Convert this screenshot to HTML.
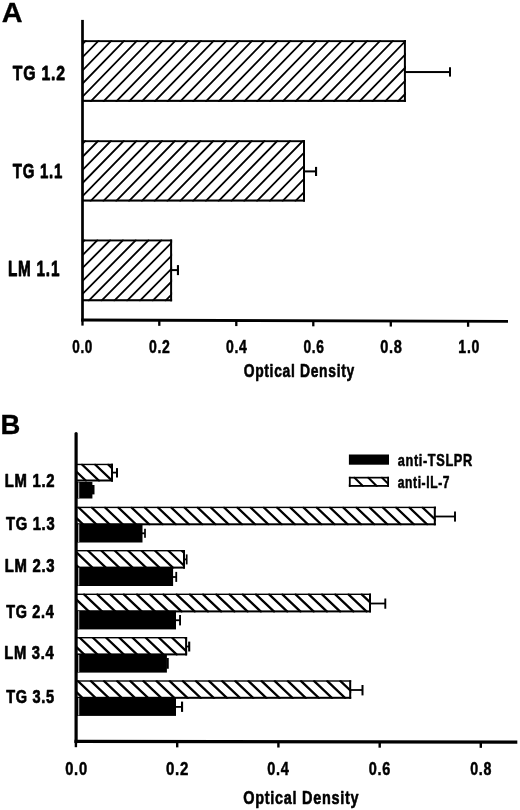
<!DOCTYPE html>
<html><head><meta charset="utf-8"><title>Figure</title>
<style>html,body{margin:0;padding:0;background:#fff}svg{display:block}text{font-family:"Liberation Sans",Arial,Helvetica,sans-serif;font-weight:bold;font-size:20px;fill:#000}</style>
</head><body>
<svg width="520" height="810" viewBox="0 0 520 810">
<rect width="520" height="810" fill="#fff"/>
<defs><filter id="soft" x="0" y="0" width="520" height="810" filterUnits="userSpaceOnUse"><feGaussianBlur stdDeviation="0.38"/></filter></defs>
<g filter="url(#soft)">
<text transform="matrix(1.4430 0 0 1.4255 1.73 21.65)" stroke="#000" stroke-width="0.3" vector-effect="non-scaling-stroke" stroke-linejoin="round">A</text>
<clipPath id="c1"><rect x="82.5" y="40.2" width="323.4" height="61.7"/></clipPath>
<path clip-path="url(#c1)" d="M-3.25 40.20L-63.35 101.90M9.55 40.20L-50.55 101.90M22.35 40.20L-37.75 101.90M35.15 40.20L-24.95 101.90M47.95 40.20L-12.15 101.90M60.75 40.20L0.65 101.90M73.55 40.20L13.45 101.90M86.35 40.20L26.25 101.90M99.15 40.20L39.05 101.90M111.95 40.20L51.85 101.90M124.75 40.20L64.65 101.90M137.55 40.20L77.45 101.90M150.35 40.20L90.25 101.90M163.15 40.20L103.05 101.90M175.95 40.20L115.85 101.90M188.75 40.20L128.65 101.90M201.55 40.20L141.45 101.90M214.35 40.20L154.25 101.90M227.15 40.20L167.05 101.90M239.95 40.20L179.85 101.90M252.75 40.20L192.65 101.90M265.55 40.20L205.45 101.90M278.35 40.20L218.25 101.90M291.15 40.20L231.05 101.90M303.95 40.20L243.85 101.90M316.75 40.20L256.65 101.90M329.55 40.20L269.45 101.90M342.35 40.20L282.25 101.90M355.15 40.20L295.05 101.90M367.95 40.20L307.85 101.90M380.75 40.20L320.65 101.90M393.55 40.20L333.45 101.90M406.35 40.20L346.25 101.90M419.15 40.20L359.05 101.90M431.95 40.20L371.85 101.90M444.75 40.20L384.65 101.90M457.55 40.20L397.45 101.90M470.35 40.20L410.25 101.90" stroke="#000" stroke-width="1.8" fill="none"/>
<rect x="82.5" y="40.2" width="323.4" height="1.9" fill="#000"/>
<rect x="82.5" y="99.80000000000001" width="323.4" height="2.1" fill="#000"/>
<rect x="403.9" y="40.2" width="2.0" height="61.7" fill="#000"/>
<rect x="405" y="71.05" width="45.00" height="2.00" fill="#000"/>
<rect x="449.0" y="67.25" width="2.00" height="9.35" fill="#000"/>
<clipPath id="c2"><rect x="82.5" y="140.25" width="222.5" height="61.349999999999994"/></clipPath>
<path clip-path="url(#c2)" d="M-3.70 140.25L-63.58 201.60M9.10 140.25L-50.78 201.60M21.90 140.25L-37.98 201.60M34.70 140.25L-25.18 201.60M47.50 140.25L-12.38 201.60M60.30 140.25L0.42 201.60M73.10 140.25L13.22 201.60M85.90 140.25L26.02 201.60M98.70 140.25L38.82 201.60M111.50 140.25L51.62 201.60M124.30 140.25L64.42 201.60M137.10 140.25L77.22 201.60M149.90 140.25L90.02 201.60M162.70 140.25L102.82 201.60M175.50 140.25L115.62 201.60M188.30 140.25L128.42 201.60M201.10 140.25L141.22 201.60M213.90 140.25L154.02 201.60M226.70 140.25L166.82 201.60M239.50 140.25L179.62 201.60M252.30 140.25L192.42 201.60M265.10 140.25L205.22 201.60M277.90 140.25L218.02 201.60M290.70 140.25L230.82 201.60M303.50 140.25L243.62 201.60M316.30 140.25L256.42 201.60M329.10 140.25L269.22 201.60M341.90 140.25L282.02 201.60M354.70 140.25L294.82 201.60M367.50 140.25L307.62 201.60" stroke="#000" stroke-width="1.8" fill="none"/>
<rect x="82.5" y="140.25" width="222.5" height="1.9" fill="#000"/>
<rect x="82.5" y="199.5" width="222.5" height="2.1" fill="#000"/>
<rect x="303.0" y="140.25" width="2.0" height="61.349999999999994" fill="#000"/>
<rect x="304" y="170.4" width="12.05" height="2.00" fill="#000"/>
<rect x="315.0" y="166.9" width="2.10" height="9.10" fill="#000"/>
<clipPath id="c3"><rect x="82.5" y="239.5" width="89.6" height="61.80000000000001"/></clipPath>
<path clip-path="url(#c3)" d="M-4.40 239.50L-65.58 301.30M8.40 239.50L-52.78 301.30M21.20 239.50L-39.98 301.30M34.00 239.50L-27.18 301.30M46.80 239.50L-14.38 301.30M59.60 239.50L-1.58 301.30M72.40 239.50L11.22 301.30M85.20 239.50L24.02 301.30M98.00 239.50L36.82 301.30M110.80 239.50L49.62 301.30M123.60 239.50L62.42 301.30M136.40 239.50L75.22 301.30M149.20 239.50L88.02 301.30M162.00 239.50L100.82 301.30M174.80 239.50L113.62 301.30M187.60 239.50L126.42 301.30M200.40 239.50L139.22 301.30M213.20 239.50L152.02 301.30M226.00 239.50L164.82 301.30M238.80 239.50L177.62 301.30" stroke="#000" stroke-width="1.8" fill="none"/>
<rect x="82.5" y="239.5" width="89.6" height="1.9" fill="#000"/>
<rect x="82.5" y="299.2" width="89.6" height="2.1" fill="#000"/>
<rect x="170.1" y="239.5" width="2.0" height="61.80000000000001" fill="#000"/>
<rect x="171.5" y="269.1" width="6.45" height="2.00" fill="#000"/>
<rect x="176.89999999999998" y="265.1" width="2.10" height="10.00" fill="#000"/>
<rect x="81.15" y="19.9" width="2.70" height="301.50" fill="#000"/>
<path d="M81.15 320.0L508 321.3" stroke="#000" stroke-width="2.8" fill="none"/>
<rect x="81.35" y="320.00456674473065" width="2.30" height="5.60" fill="#000"/>
<rect x="158.15" y="320.23838407494145" width="2.30" height="5.60" fill="#000"/>
<rect x="235.15" y="320.47281030444964" width="2.30" height="5.60" fill="#000"/>
<rect x="312.15000000000003" y="320.7072365339578" width="2.30" height="5.60" fill="#000"/>
<rect x="389.65000000000003" y="320.9431850117096" width="2.30" height="5.60" fill="#000"/>
<rect x="466.95000000000005" y="321.17852459016393" width="2.30" height="5.60" fill="#000"/>
<text transform="matrix(0.7893 0 0 1.0265 12.85 80.09)" letter-spacing="1" stroke="#000" stroke-width="0.7" vector-effect="non-scaling-stroke" stroke-linejoin="round">TG 1.2</text>
<text transform="matrix(0.7480 0 0 1.0195 12.76 177.70)" letter-spacing="1" stroke="#000" stroke-width="0.7" vector-effect="non-scaling-stroke" stroke-linejoin="round">TG 1.1</text>
<text transform="matrix(0.7663 0 0 1.0909 7.90 276.25)" letter-spacing="1" stroke="#000" stroke-width="0.7" vector-effect="non-scaling-stroke" stroke-linejoin="round">LM 1.1</text>
<text transform="matrix(0.6743 0 0 0.8956 72.22 352.75)" letter-spacing="1" stroke="#000" stroke-width="0.45" vector-effect="non-scaling-stroke" stroke-linejoin="round">0.0</text>
<text transform="matrix(0.7009 0 0 0.8956 148.95 352.75)" letter-spacing="1" stroke="#000" stroke-width="0.45" vector-effect="non-scaling-stroke" stroke-linejoin="round">0.2</text>
<text transform="matrix(0.7000 0 0 0.8956 225.95 352.75)" letter-spacing="1" stroke="#000" stroke-width="0.45" vector-effect="non-scaling-stroke" stroke-linejoin="round">0.4</text>
<text transform="matrix(0.6890 0 0 0.8956 303.46 352.75)" letter-spacing="1" stroke="#000" stroke-width="0.45" vector-effect="non-scaling-stroke" stroke-linejoin="round">0.6</text>
<text transform="matrix(0.7281 0 0 0.8956 380.28 352.75)" letter-spacing="1" stroke="#000" stroke-width="0.45" vector-effect="non-scaling-stroke" stroke-linejoin="round">0.8</text>
<text transform="matrix(0.7045 0 0 0.8956 458.34 352.75)" letter-spacing="1" stroke="#000" stroke-width="0.45" vector-effect="non-scaling-stroke" stroke-linejoin="round">1.0</text>
<text transform="matrix(0.6931 0 0 0.9477 243.67 376.72)" letter-spacing="1" stroke="#000" stroke-width="0.55" vector-effect="non-scaling-stroke" stroke-linejoin="round">Optical Density</text>
<text transform="matrix(1.3732 0 0 1.4182 0.41 434.05)" stroke="#000" stroke-width="0.3" vector-effect="non-scaling-stroke" stroke-linejoin="round">B</text>
<clipPath id="c4"><rect x="77" y="463.75" width="36" height="17.75"/></clipPath>
<path clip-path="url(#c4)" d="M41.90 463.75L60.54 481.50M55.00 463.75L73.64 481.50M68.10 463.75L86.74 481.50M81.20 463.75L99.84 481.50M94.30 463.75L112.94 481.50M107.40 463.75L126.04 481.50M120.50 463.75L139.14 481.50M133.60 463.75L152.24 481.50" stroke="#000" stroke-width="2.3" fill="none"/>
<rect x="77" y="463.75" width="36" height="1.4" fill="#000"/>
<rect x="77" y="479.5" width="36" height="2.0" fill="#000"/>
<rect x="111.0" y="463.75" width="2.0" height="17.75" fill="#000"/>
<rect x="112" y="471.70000000000005" width="5.00" height="1.80" fill="#000"/>
<rect x="116.0" y="468.1" width="2.00" height="9.40" fill="#000"/>
<rect x="77" y="481.9" width="15.40" height="16.60" fill="#000"/>
<rect x="78.0" y="482.4" width="1.30" height="15.60" fill="#a8a8a8"/>
<rect x="92" y="485" width="2.50" height="9.40" fill="#000"/>
<clipPath id="c5"><rect x="77" y="506.7" width="358.8" height="18.599999999999966"/></clipPath>
<path clip-path="url(#c5)" d="M38.08 506.70L57.61 525.30M51.31 506.70L70.84 525.30M64.54 506.70L84.07 525.30M77.77 506.70L97.30 525.30M91.00 506.70L110.53 525.30M104.23 506.70L123.76 525.30M117.46 506.70L136.99 525.30M130.69 506.70L150.22 525.30M143.92 506.70L163.45 525.30M157.15 506.70L176.68 525.30M170.38 506.70L189.91 525.30M183.61 506.70L203.14 525.30M196.84 506.70L216.37 525.30M210.07 506.70L229.60 525.30M223.30 506.70L242.83 525.30M236.53 506.70L256.06 525.30M249.76 506.70L269.29 525.30M262.99 506.70L282.52 525.30M276.22 506.70L295.75 525.30M289.45 506.70L308.98 525.30M302.68 506.70L322.21 525.30M315.91 506.70L335.44 525.30M329.14 506.70L348.67 525.30M342.37 506.70L361.90 525.30M355.60 506.70L375.13 525.30M368.83 506.70L388.36 525.30M382.06 506.70L401.59 525.30M395.29 506.70L414.82 525.30M408.52 506.70L428.05 525.30M421.75 506.70L441.28 525.30M434.98 506.70L454.51 525.30M448.21 506.70L467.74 525.30M461.44 506.70L480.97 525.30" stroke="#000" stroke-width="2.3" fill="none"/>
<rect x="77" y="506.7" width="358.8" height="1.4" fill="#000"/>
<rect x="77" y="523.3" width="358.8" height="2.0" fill="#000"/>
<rect x="433.8" y="506.7" width="2.0" height="18.599999999999966" fill="#000"/>
<rect x="435" y="515.6" width="20.00" height="1.80" fill="#000"/>
<rect x="454.05" y="511.5" width="1.90" height="10.10" fill="#000"/>
<rect x="77" y="523.75" width="65.50" height="18.75" fill="#000"/>
<rect x="78.0" y="524.25" width="1.30" height="17.75" fill="#a8a8a8"/>
<rect x="142" y="532.4" width="3.00" height="1.80" fill="#000"/>
<rect x="144.15" y="528.75" width="1.70" height="9.05" fill="#000"/>
<clipPath id="c6"><rect x="77" y="550.0" width="108" height="18.600000000000023"/></clipPath>
<path clip-path="url(#c6)" d="M33.70 550.00L53.23 568.60M47.10 550.00L66.63 568.60M60.50 550.00L80.03 568.60M73.90 550.00L93.43 568.60M87.30 550.00L106.83 568.60M100.70 550.00L120.23 568.60M114.10 550.00L133.63 568.60M127.50 550.00L147.03 568.60M140.90 550.00L160.43 568.60M154.30 550.00L173.83 568.60M167.70 550.00L187.23 568.60M181.10 550.00L200.63 568.60M194.50 550.00L214.03 568.60M207.90 550.00L227.43 568.60" stroke="#000" stroke-width="2.3" fill="none"/>
<rect x="77" y="550.0" width="108" height="1.4" fill="#000"/>
<rect x="77" y="566.6" width="108" height="2.0" fill="#000"/>
<rect x="183.0" y="550.0" width="2.0" height="18.600000000000023" fill="#000"/>
<rect x="184.5" y="558.5" width="2.20" height="1.80" fill="#000"/>
<rect x="185.85" y="554.4" width="1.70" height="10.00" fill="#000"/>
<rect x="77" y="567.25" width="96.10" height="18.75" fill="#000"/>
<rect x="78.0" y="567.75" width="1.30" height="17.75" fill="#a8a8a8"/>
<rect x="173" y="576.1" width="3.25" height="1.80" fill="#000"/>
<rect x="175.35" y="571.9" width="1.80" height="10.00" fill="#000"/>
<clipPath id="c7"><rect x="77" y="593.6" width="294" height="18.799999999999955"/></clipPath>
<path clip-path="url(#c7)" d="M43.64 593.60L63.38 612.40M56.86 593.60L76.60 612.40M70.08 593.60L89.82 612.40M83.30 593.60L103.04 612.40M96.52 593.60L116.26 612.40M109.74 593.60L129.48 612.40M122.96 593.60L142.70 612.40M136.18 593.60L155.92 612.40M149.40 593.60L169.14 612.40M162.62 593.60L182.36 612.40M175.84 593.60L195.58 612.40M189.06 593.60L208.80 612.40M202.28 593.60L222.02 612.40M215.50 593.60L235.24 612.40M228.72 593.60L248.46 612.40M241.94 593.60L261.68 612.40M255.16 593.60L274.90 612.40M268.38 593.60L288.12 612.40M281.60 593.60L301.34 612.40M294.82 593.60L314.56 612.40M308.04 593.60L327.78 612.40M321.26 593.60L341.00 612.40M334.48 593.60L354.22 612.40M347.70 593.60L367.44 612.40M360.92 593.60L380.66 612.40M374.14 593.60L393.88 612.40M387.36 593.60L407.10 612.40M400.58 593.60L420.32 612.40" stroke="#000" stroke-width="2.3" fill="none"/>
<rect x="77" y="593.6" width="294" height="1.4" fill="#000"/>
<rect x="77" y="610.4" width="294" height="2.0" fill="#000"/>
<rect x="369.0" y="593.6" width="2.0" height="18.799999999999955" fill="#000"/>
<rect x="370.5" y="602.6" width="14.80" height="1.80" fill="#000"/>
<rect x="384.35" y="598.5" width="1.90" height="10.25" fill="#000"/>
<rect x="77" y="610.6" width="99.00" height="18.80" fill="#000"/>
<rect x="78.0" y="611.1" width="1.30" height="17.80" fill="#a8a8a8"/>
<rect x="175.5" y="619.35" width="4.55" height="1.80" fill="#000"/>
<rect x="179.10000000000002" y="615" width="1.90" height="10.40" fill="#000"/>
<clipPath id="c8"><rect x="77" y="637.0" width="110.1" height="18.399999999999977"/></clipPath>
<path clip-path="url(#c8)" d="M39.40 637.00L58.72 655.40M52.60 637.00L71.92 655.40M65.80 637.00L85.12 655.40M79.00 637.00L98.32 655.40M92.20 637.00L111.52 655.40M105.40 637.00L124.72 655.40M118.60 637.00L137.92 655.40M131.80 637.00L151.12 655.40M145.00 637.00L164.32 655.40M158.20 637.00L177.52 655.40M171.40 637.00L190.72 655.40M184.60 637.00L203.92 655.40M197.80 637.00L217.12 655.40M211.00 637.00L230.32 655.40" stroke="#000" stroke-width="2.3" fill="none"/>
<rect x="77" y="637.0" width="110.1" height="1.4" fill="#000"/>
<rect x="77" y="653.4" width="110.1" height="2.0" fill="#000"/>
<rect x="185.1" y="637.0" width="2.0" height="18.399999999999977" fill="#000"/>
<rect x="186.5" y="645.6" width="2.70" height="1.80" fill="#000"/>
<rect x="188.14999999999998" y="641.6" width="2.10" height="9.90" fill="#000"/>
<rect x="77" y="654.4" width="89.90" height="18.20" fill="#000"/>
<rect x="78.0" y="654.9" width="1.30" height="17.20" fill="#a8a8a8"/>
<rect x="166.5" y="658" width="2.25" height="10.75" fill="#000"/>
<clipPath id="c9"><rect x="77" y="680.3" width="274.2" height="18.5"/></clipPath>
<path clip-path="url(#c9)" d="M37.71 680.30L57.13 698.80M50.84 680.30L70.26 698.80M63.97 680.30L83.39 698.80M77.10 680.30L96.52 698.80M90.23 680.30L109.65 698.80M103.36 680.30L122.78 698.80M116.49 680.30L135.91 698.80M129.62 680.30L149.04 698.80M142.75 680.30L162.17 698.80M155.88 680.30L175.30 698.80M169.01 680.30L188.43 698.80M182.14 680.30L201.56 698.80M195.27 680.30L214.69 698.80M208.40 680.30L227.82 698.80M221.53 680.30L240.95 698.80M234.66 680.30L254.08 698.80M247.79 680.30L267.21 698.80M260.92 680.30L280.34 698.80M274.05 680.30L293.47 698.80M287.18 680.30L306.60 698.80M300.31 680.30L319.73 698.80M313.44 680.30L332.86 698.80M326.57 680.30L345.99 698.80M339.70 680.30L359.12 698.80M352.83 680.30L372.25 698.80M365.96 680.30L385.38 698.80M379.09 680.30L398.51 698.80" stroke="#000" stroke-width="2.3" fill="none"/>
<rect x="77" y="680.3" width="274.2" height="1.4" fill="#000"/>
<rect x="77" y="696.8" width="274.2" height="2.0" fill="#000"/>
<rect x="349.2" y="680.3" width="2.0" height="18.5" fill="#000"/>
<rect x="350.5" y="689.1" width="12.00" height="1.80" fill="#000"/>
<rect x="361.5" y="685" width="2.00" height="10.40" fill="#000"/>
<rect x="77" y="697.5" width="99.00" height="18.40" fill="#000"/>
<rect x="78.0" y="698.0" width="1.30" height="17.40" fill="#a8a8a8"/>
<rect x="175.5" y="706.0" width="6.55" height="1.80" fill="#000"/>
<rect x="181.0" y="701.6" width="2.10" height="10.30" fill="#000"/>
<path d="M76.1 433.5L76.1 742" stroke="#000" stroke-width="3.2" stroke-linecap="round" fill="none"/>
<path d="M74.5 741.4L517.3 742.1" stroke="#000" stroke-width="3.3" fill="none"/>
<rect x="74.7" y="741.4014253393665" width="2.40" height="5.80" fill="#000"/>
<rect x="176.0" y="741.5618552036199" width="2.40" height="5.80" fill="#000"/>
<rect x="277.2" y="741.7221266968326" width="2.40" height="5.80" fill="#000"/>
<rect x="378.5" y="741.882556561086" width="2.40" height="5.80" fill="#000"/>
<rect x="479.6" y="742.0426696832579" width="2.40" height="5.80" fill="#000"/>
<text transform="matrix(0.7424 0 0 0.9261 4.70 486.68)" letter-spacing="1" stroke="#000" stroke-width="0.65" vector-effect="non-scaling-stroke" stroke-linejoin="round">LM 1.2</text>
<text transform="matrix(0.7363 0 0 0.9168 5.94 529.75)" letter-spacing="1" stroke="#000" stroke-width="0.65" vector-effect="non-scaling-stroke" stroke-linejoin="round">TG 1.3</text>
<text transform="matrix(0.7424 0 0 0.9097 4.70 571.85)" letter-spacing="1" stroke="#000" stroke-width="0.65" vector-effect="non-scaling-stroke" stroke-linejoin="round">LM 2.3</text>
<text transform="matrix(0.7202 0 0 0.9239 6.14 618.14)" letter-spacing="1" stroke="#000" stroke-width="0.65" vector-effect="non-scaling-stroke" stroke-linejoin="round">TG 2.4</text>
<text transform="matrix(0.7369 0 0 0.9168 4.21 658.95)" letter-spacing="1" stroke="#000" stroke-width="0.65" vector-effect="non-scaling-stroke" stroke-linejoin="round">LM 3.4</text>
<text transform="matrix(0.7257 0 0 0.9239 6.14 703.24)" letter-spacing="1" stroke="#000" stroke-width="0.65" vector-effect="non-scaling-stroke" stroke-linejoin="round">TG 3.5</text>
<text transform="matrix(0.7363 0 0 0.9168 65.17 774.95)" letter-spacing="1" stroke="#000" stroke-width="0.45" vector-effect="non-scaling-stroke" stroke-linejoin="round">0.0</text>
<text transform="matrix(0.7540 0 0 0.9168 165.91 774.95)" letter-spacing="1" stroke="#000" stroke-width="0.45" vector-effect="non-scaling-stroke" stroke-linejoin="round">0.2</text>
<text transform="matrix(0.7259 0 0 0.9168 267.18 774.95)" letter-spacing="1" stroke="#000" stroke-width="0.45" vector-effect="non-scaling-stroke" stroke-linejoin="round">0.4</text>
<text transform="matrix(0.7242 0 0 0.9168 368.68 774.95)" letter-spacing="1" stroke="#000" stroke-width="0.45" vector-effect="non-scaling-stroke" stroke-linejoin="round">0.6</text>
<text transform="matrix(0.7123 0 0 0.9168 470.19 774.95)" letter-spacing="1" stroke="#000" stroke-width="0.45" vector-effect="non-scaling-stroke" stroke-linejoin="round">0.8</text>
<text transform="matrix(0.7233 0 0 0.9584 243.24 803.77)" letter-spacing="1" stroke="#000" stroke-width="0.55" vector-effect="non-scaling-stroke" stroke-linejoin="round">Optical Density</text>
<rect x="348.9" y="454.5" width="40.10" height="10.20" fill="#000"/>
<clipPath id="c10"><rect x="348.9" y="476.8" width="40.10000000000002" height="10.0"/></clipPath>
<path clip-path="url(#c10)" d="M312.20 476.80L322.20 486.80M326.00 476.80L336.00 486.80M339.80 476.80L349.80 486.80M353.60 476.80L363.60 486.80M367.40 476.80L377.40 486.80M381.20 476.80L391.20 486.80M395.00 476.80L405.00 486.80M408.80 476.80L418.80 486.80" stroke="#000" stroke-width="2.0" fill="none"/>
<rect x="348.9" y="476.8" width="40.10000000000002" height="1.7" fill="#000"/>
<rect x="348.9" y="485.0" width="40.10000000000002" height="1.8" fill="#000"/>
<rect x="387.2" y="476.8" width="1.8" height="10.0" fill="#000"/>
<rect x="348.9" y="476.8" width="1.80" height="10.00" fill="#000"/>
<text transform="matrix(0.6383 0 0 0.8203 397.75 466.24)" letter-spacing="1" stroke="#000" stroke-width="0.5" vector-effect="non-scaling-stroke" stroke-linejoin="round">anti-TSLPR</text>
<text transform="matrix(0.6030 0 0 0.7932 397.77 487.95)" letter-spacing="1" stroke="#000" stroke-width="0.5" vector-effect="non-scaling-stroke" stroke-linejoin="round">anti-IL-7</text>
</g></svg></body></html>
